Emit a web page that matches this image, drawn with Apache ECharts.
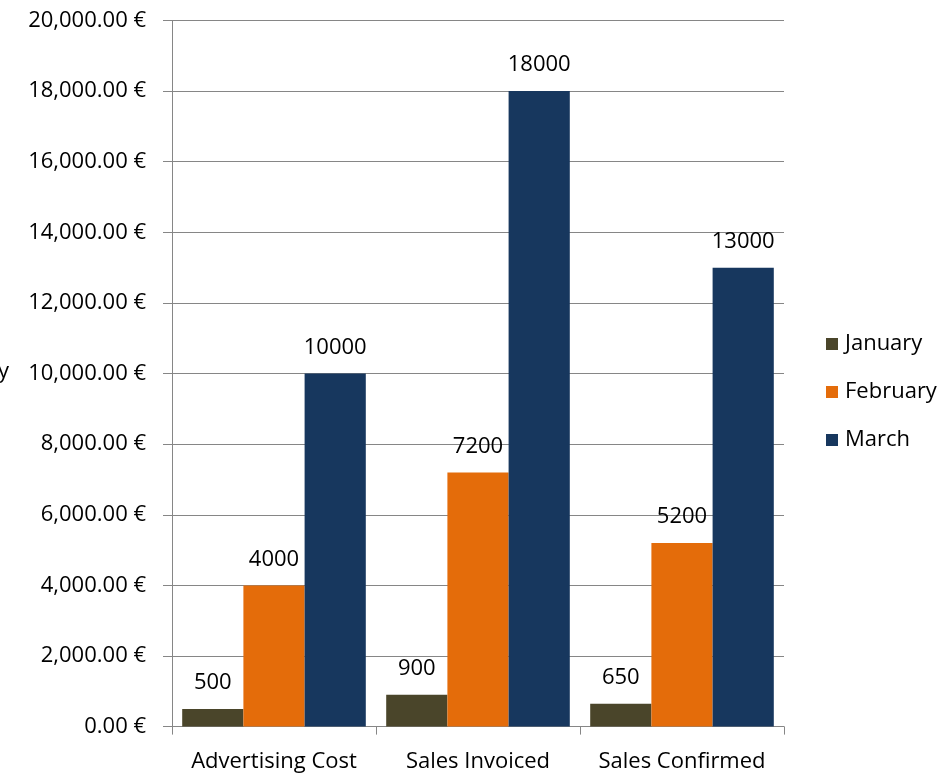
<!DOCTYPE html>
<html>
<head>
<meta charset="utf-8">
<script src="https://cdn.jsdelivr.net/npm/echarts@6/dist/echarts.min.js"></script>
<style>
html,body{margin:0;padding:0;background:#fff;}
#chart{width:949px;height:773px;}
</style>
</head>
<body>
<div id="chart"></div>
<script>
// Monthly figures per metric
const categories = ['Advertising Cost', 'Sales Invoiced', 'Sales Confirmed'];
const january = [500, 900, 650];
const february = [4000, 7200, 5200];
const march = [10000, 18000, 13000];
const seriesNames = ['January', 'February', 'March'];
const colors = ['#4a452a', '#e46c0a', '#17375e'];

const FONT = '"Open Sans", sans-serif';
const FS = 22;
const GRAY = '#868686';

function euro(v) {
  return v.toLocaleString('en-US', {minimumFractionDigits: 2, maximumFractionDigits: 2}) + ' €';
}

function makeSeries(name, data, color) {
  return {
    name: name,
    type: 'bar',
    data: data,
    barGap: '0%',
    barCategoryGap: '10%',
    itemStyle: {color: color},
    label: {
      show: true,
      position: 'top',
      distance: 15,
      color: '#000',
      fontFamily: FONT,
      fontSize: FS
    }
  };
}

const chart = echarts.init(document.getElementById('chart'), null, {renderer: 'canvas'});
chart.setOption({
  animation: false,
  backgroundColor: '#fff',
  grid: {left: 172, right: 165, top: 20.5, bottom: 46.4, containLabel: false},
  legend: {
    orient: 'vertical',
    left: 826,
    top: 333,
    padding: 0,
    itemWidth: 12,
    itemHeight: 12,
    itemGap: 26,
    icon: 'rect',
    textStyle: {fontFamily: FONT, fontSize: FS, color: '#000', padding: [0, 0, 0, 2]},
    data: seriesNames
  },
  xAxis: {
    type: 'category',
    data: categories,
    axisLine: {lineStyle: {color: GRAY, width: 1}},
    axisTick: {show: true, length: 8, lineStyle: {color: GRAY}},
    axisLabel: {color: '#000', fontFamily: FONT, fontSize: FS, margin: 24, interval: 0, hideOverlap: false}
  },
  yAxis: {
    type: 'value',
    min: 0,
    max: 20000,
    interval: 2000,
    axisLine: {show: true, lineStyle: {color: GRAY, width: 1}},
    axisTick: {show: true, length: 9, lineStyle: {color: GRAY}},
    splitLine: {lineStyle: {color: GRAY, width: 1}},
    axisLabel: {color: '#000', fontFamily: FONT, fontSize: FS, margin: 26, formatter: euro}
  },
  graphic: [{
    type: 'text',
    x: 9,
    y: 372,
    style: {
      text: 'Currency',
      fontFamily: FONT,
      fontSize: FS,
      fill: '#000',
      align: 'right',
      verticalAlign: 'middle'
    }
  }],
  series: [
    makeSeries(seriesNames[0], january, colors[0]),
    makeSeries(seriesNames[1], february, colors[1]),
    makeSeries(seriesNames[2], march, colors[2])
  ]
});
</script>
</body>
</html>
